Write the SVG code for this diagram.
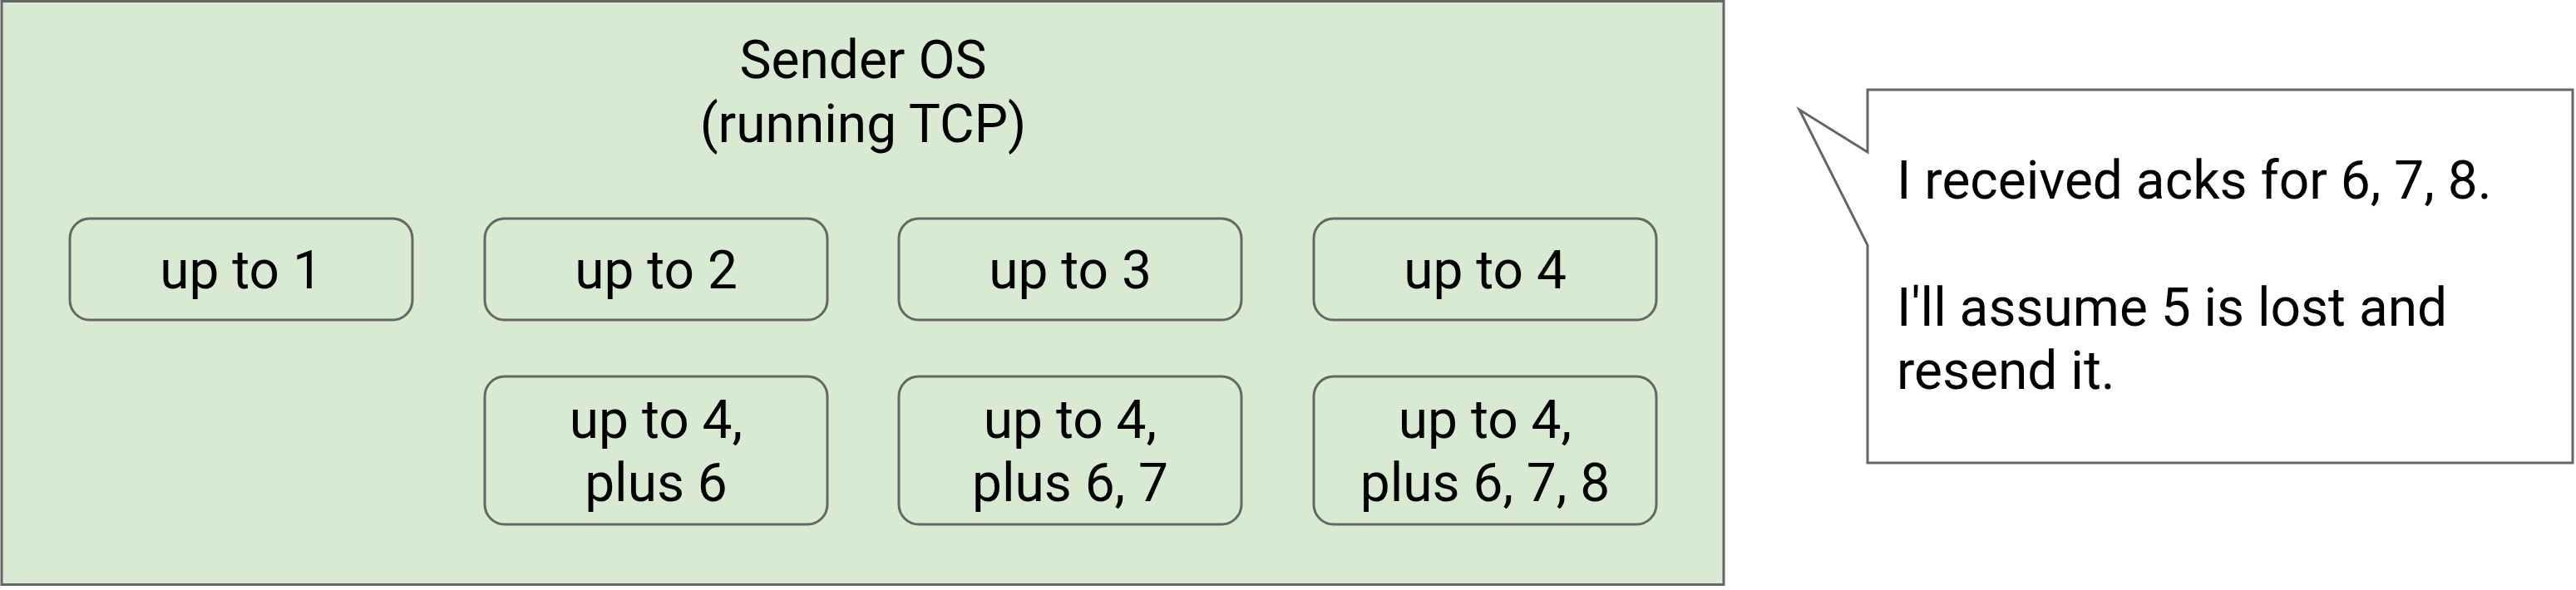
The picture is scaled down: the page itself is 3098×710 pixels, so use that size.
<svg xmlns="http://www.w3.org/2000/svg" width="3098" height="710" viewBox="0 0 3098 710">
<style>
.t{font-family:Roboto,"Liberation Sans",sans-serif;font-size:64px;fill:#000}
.c{text-anchor:middle}
.box{fill:#d9ead3;stroke:#666;stroke-width:3}
</style>
<rect width="3098" height="710" fill="#fff"/>
<g id="sender-os">
<rect x="2" y="1.5" width="2071" height="702" fill="#d9ead3" stroke="#666" stroke-width="3"/>
<text class="t c" x="1038" y="94">Sender OS</text>
<text class="t c" x="1038" y="171">(running TCP)</text>
</g>
<g id="n1"><rect class="box" x="84" y="263" width="412" height="122" rx="24"/><text class="t c" x="290" y="347">up to 1</text></g>
<g id="n2"><rect class="box" x="583" y="263" width="412" height="122" rx="24"/><text class="t c" x="789" y="347">up to 2</text></g>
<g id="n3"><rect class="box" x="1081" y="263" width="412" height="122" rx="24"/><text class="t c" x="1287" y="347">up to 3</text></g>
<g id="n4"><rect class="box" x="1580" y="263" width="412" height="122" rx="24"/><text class="t c" x="1786" y="347">up to 4</text></g>
<g id="n5"><rect class="box" x="583" y="453" width="412" height="178" rx="24"/><text class="t c" x="789" y="527">up to 4,</text><text class="t c" x="789" y="603">plus 6</text></g>
<g id="n6"><rect class="box" x="1081" y="453" width="412" height="178" rx="24"/><text class="t c" x="1287" y="527">up to 4,</text><text class="t c" x="1287" y="603">plus 6, 7</text></g>
<g id="n7"><rect class="box" x="1580" y="453" width="412" height="178" rx="24"/><text class="t c" x="1786" y="527">up to 4,</text><text class="t c" x="1786" y="603">plus 6, 7, 8</text></g>
<g id="callout">
<path d="M2246,108 H3094 V557 H2246 V295 L2164,132 L2246,183 Z" fill="#fff" stroke="#666" stroke-width="3" stroke-linejoin="miter"/>
<text class="t" x="2281" y="239">I received acks for 6, 7, 8.</text>
<text class="t" x="2281" y="392">I'll assume 5 is lost and</text>
<text class="t" x="2281" y="468">resend it.</text>
</g>
<g id="connectors"/>
</svg>
